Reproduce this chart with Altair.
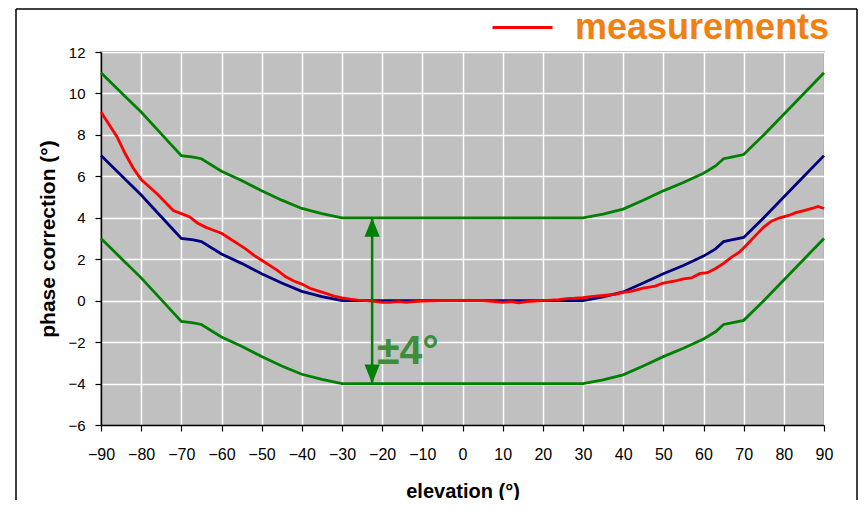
import altair as alt
import pandas as pd

# reference model (blue) and tolerance band (green)
elev_model = [-90, -85, -80, -75, -70, -67, -65, -60, -55, -50, -45, -40, -35, -30,
              30, 35, 40, 45, 50, 55, 60, 63, 65, 67, 70, 75, 80, 85, 90]
model = [7.0, 6.05, 5.1, 4.05, 3.0, 2.93, 2.85, 2.25, 1.8, 1.3, 0.85, 0.45, 0.2, 0.0,
         0.0, 0.18, 0.42, 0.85, 1.3, 1.7, 2.15, 2.5, 2.85, 2.93, 3.05, 4.0, 5.0, 6.0, 7.0]
band_upper = [11.0, 10.05, 9.1, 8.05, 7.0, 6.93, 6.85, 6.25, 5.8, 5.3, 4.85, 4.45, 4.2, 4.0,
              4.0, 4.18, 4.42, 4.85, 5.3, 5.7, 6.15, 6.5, 6.85, 6.93, 7.05, 8.0, 9.0, 10.0, 11.0]
band_lower = [3.0, 2.05, 1.1, 0.05, -1.0, -1.07, -1.15, -1.75, -2.2, -2.7, -3.15, -3.55, -3.8, -4.0,
              -4.0, -3.82, -3.58, -3.15, -2.7, -2.3, -1.85, -1.5, -1.15, -1.07, -0.95, 0.0, 1.0, 2.0, 3.0]

# measurements (red)
elev_meas = [-90, -88, -86, -84, -82, -80, -78, -76, -74, -72, -70, -68, -66, -64, -62, -60,
             -58, -56, -54, -52, -50, -48, -46, -44, -42, -40, -38, -36, -34, -32, -30, -28,
             -26, -24, -22, -20, -18, -16, -14, -12, -10, -5, 0, 5, 8, 10, 12, 14, 16, 18,
             20, 24, 26, 28, 30, 32, 35, 38, 40, 42, 45, 48, 50, 53, 55, 57, 59, 61, 63, 65,
             67, 69, 71, 73, 75, 77, 79, 81, 83, 85, 87, 88.5, 90]
meas = [9.1, 8.5, 7.9, 7.1, 6.4, 5.85, 5.5, 5.15, 4.75, 4.35, 4.2, 4.05, 3.75, 3.55, 3.4, 3.25,
        3.0, 2.75, 2.5, 2.2, 1.95, 1.7, 1.45, 1.15, 0.95, 0.8, 0.6, 0.47, 0.35, 0.22, 0.13, 0.07,
        0.03, 0.0, -0.03, -0.08, -0.08, -0.05, -0.08, -0.05, -0.02, 0.0, 0.0, 0.0, -0.05, -0.08, -0.05, -0.1, -0.05, -0.02,
        0.0, 0.05, 0.1, 0.12, 0.15, 0.2, 0.25, 0.3, 0.4, 0.45, 0.6, 0.7, 0.85, 0.95, 1.05, 1.1, 1.3, 1.35, 1.55, 1.8,
        2.1, 2.35, 2.75, 3.15, 3.55, 3.85, 4.0, 4.1, 4.25, 4.35, 4.45, 4.55, 4.45]

arrow_x = [-22.5]
arrow_top = [4.0]
arrow_bottom = [-4.0]
head_y = [3.54, -3.54]
label_text = ["±4°"]
label_x = [-21.3]
label_y = [-2.5]

x_ticks = list(range(-90, 91, 10))
y_ticks = list(range(-6, 13, 2))

FONT = "Liberation Sans"
GREEN = "#008000"

df_model = pd.DataFrame({"elev": elev_model, "model": model,
                         "upper": band_upper, "lower": band_lower})
df_meas = pd.DataFrame({"elev": elev_meas, "val": meas, "series": "measurements"})

xs = alt.Scale(domain=[-90, 90], nice=False, zero=False)
ys = alt.Scale(domain=[-6, 12], nice=False, zero=False)

x_enc = alt.X("elev:Q", scale=xs, title="elevation (°)",
              axis=alt.Axis(values=x_ticks, labelFontSize=16, labelPadding=15,
                            titleFontSize=20, titlePadding=19, labelFlush=False))
base = alt.Chart(df_model)

green_up = base.mark_line(color=GREEN, strokeWidth=2.8).encode(
    x=x_enc,
    y=alt.Y("upper:Q", scale=ys, title="phase correction (°)",
            axis=alt.Axis(values=y_ticks, labelFontSize=15, labelPadding=10,
                          titleFontSize=21, titlePadding=9)))
green_lo = base.mark_line(color=GREEN, strokeWidth=2.8).encode(
    x=alt.X("elev:Q", scale=xs), y=alt.Y("lower:Q", scale=ys))
blue = base.mark_line(color="#000080", strokeWidth=2.8).encode(
    x=alt.X("elev:Q", scale=xs), y=alt.Y("model:Q", scale=ys))
red = alt.Chart(df_meas).mark_line(strokeWidth=2.8).encode(
    x=alt.X("elev:Q", scale=xs), y=alt.Y("val:Q", scale=ys),
    color=alt.Color("series:N",
                    scale=alt.Scale(domain=["measurements"], range=["#ff0000"]),
                    legend=alt.Legend(title=None, orient="none", legendX=390, legendY=-56,
                                      symbolType="stroke", symbolSize=3600,
                                      symbolStrokeWidth=3, labelFontSize=36,
                                      labelFont=FONT, labelFontWeight="bold",
                                      labelColor="#f08010", labelOffset=21,
                                      padding=0, labelLimit=400)))

df_arrow = pd.DataFrame({"x": arrow_x, "y1": arrow_top, "y2": arrow_bottom})
arrow = alt.Chart(df_arrow).mark_rule(color=GREEN, strokeWidth=2.5).encode(
    x=alt.X("x:Q", scale=xs), y=alt.Y("y1:Q", scale=ys), y2="y2:Q")

df_heads = pd.DataFrame({"x": arrow_x * 2, "y": head_y, "dir": ["up", "down"]})
head_up = alt.Chart(df_heads[df_heads.dir == "up"]).mark_point(
    shape="M0,-1L-0.8,1L0.8,1Z", size=361, filled=True, color=GREEN, opacity=1).encode(
    x=alt.X("x:Q", scale=xs), y=alt.Y("y:Q", scale=ys))
head_dn = alt.Chart(df_heads[df_heads.dir == "down"]).mark_point(
    shape="M0,1L-0.8,-1L0.8,-1Z", size=361, filled=True, color=GREEN, opacity=1).encode(
    x=alt.X("x:Q", scale=xs), y=alt.Y("y:Q", scale=ys))

df_label = pd.DataFrame({"x": label_x, "y": label_y, "t": label_text})
label = alt.Chart(df_label).mark_text(
    align="left", baseline="middle", fontSize=41, fontWeight="bold",
    color="#3c8d3c", font=FONT).encode(
    x=alt.X("x:Q", scale=xs), y=alt.Y("y:Q", scale=ys), text="t:N")

# decorative figure frame (left, top, right edges)
frame_df = pd.DataFrame({"k": [0]})
frame_left = alt.Chart(frame_df).mark_rule(color="black", strokeWidth=1.5, clip=False).encode(
    x=alt.value(-85), y=alt.value(-43), y2=alt.value(460))
frame_top = alt.Chart(frame_df).mark_rule(color="black", strokeWidth=1.5, clip=False).encode(
    x=alt.value(-85), x2=alt.value(756), y=alt.value(-43))
frame_right = alt.Chart(frame_df).mark_rule(color="black", strokeWidth=1.5, clip=False).encode(
    x=alt.value(756), y=alt.value(-43), y2=alt.value(460))

chart = alt.layer(green_up, green_lo, blue, red, arrow, head_up, head_dn, label,
                  frame_left, frame_top, frame_right).properties(
    width=723, height=373,
    autosize=alt.AutoSizeParams(type="none"),
    padding={"left": 93, "top": 44, "right": 34, "bottom": 75},
    background="white",
).configure_view(
    fill="#c0c0c0", stroke="#909090", strokeWidth=1.5
).configure_axis(
    grid=True, gridColor="white", gridWidth=1.5, gridOpacity=1,
    domainColor="black", domainWidth=1.5, tickColor="black", tickSize=6, tickWidth=1.2,
    labelFont=FONT, titleFont=FONT, labelColor="black", titleColor="black",
    titleFontWeight="bold"
)

chart.save("out.html", embed_options={"renderer": "svg", "actions": False})
